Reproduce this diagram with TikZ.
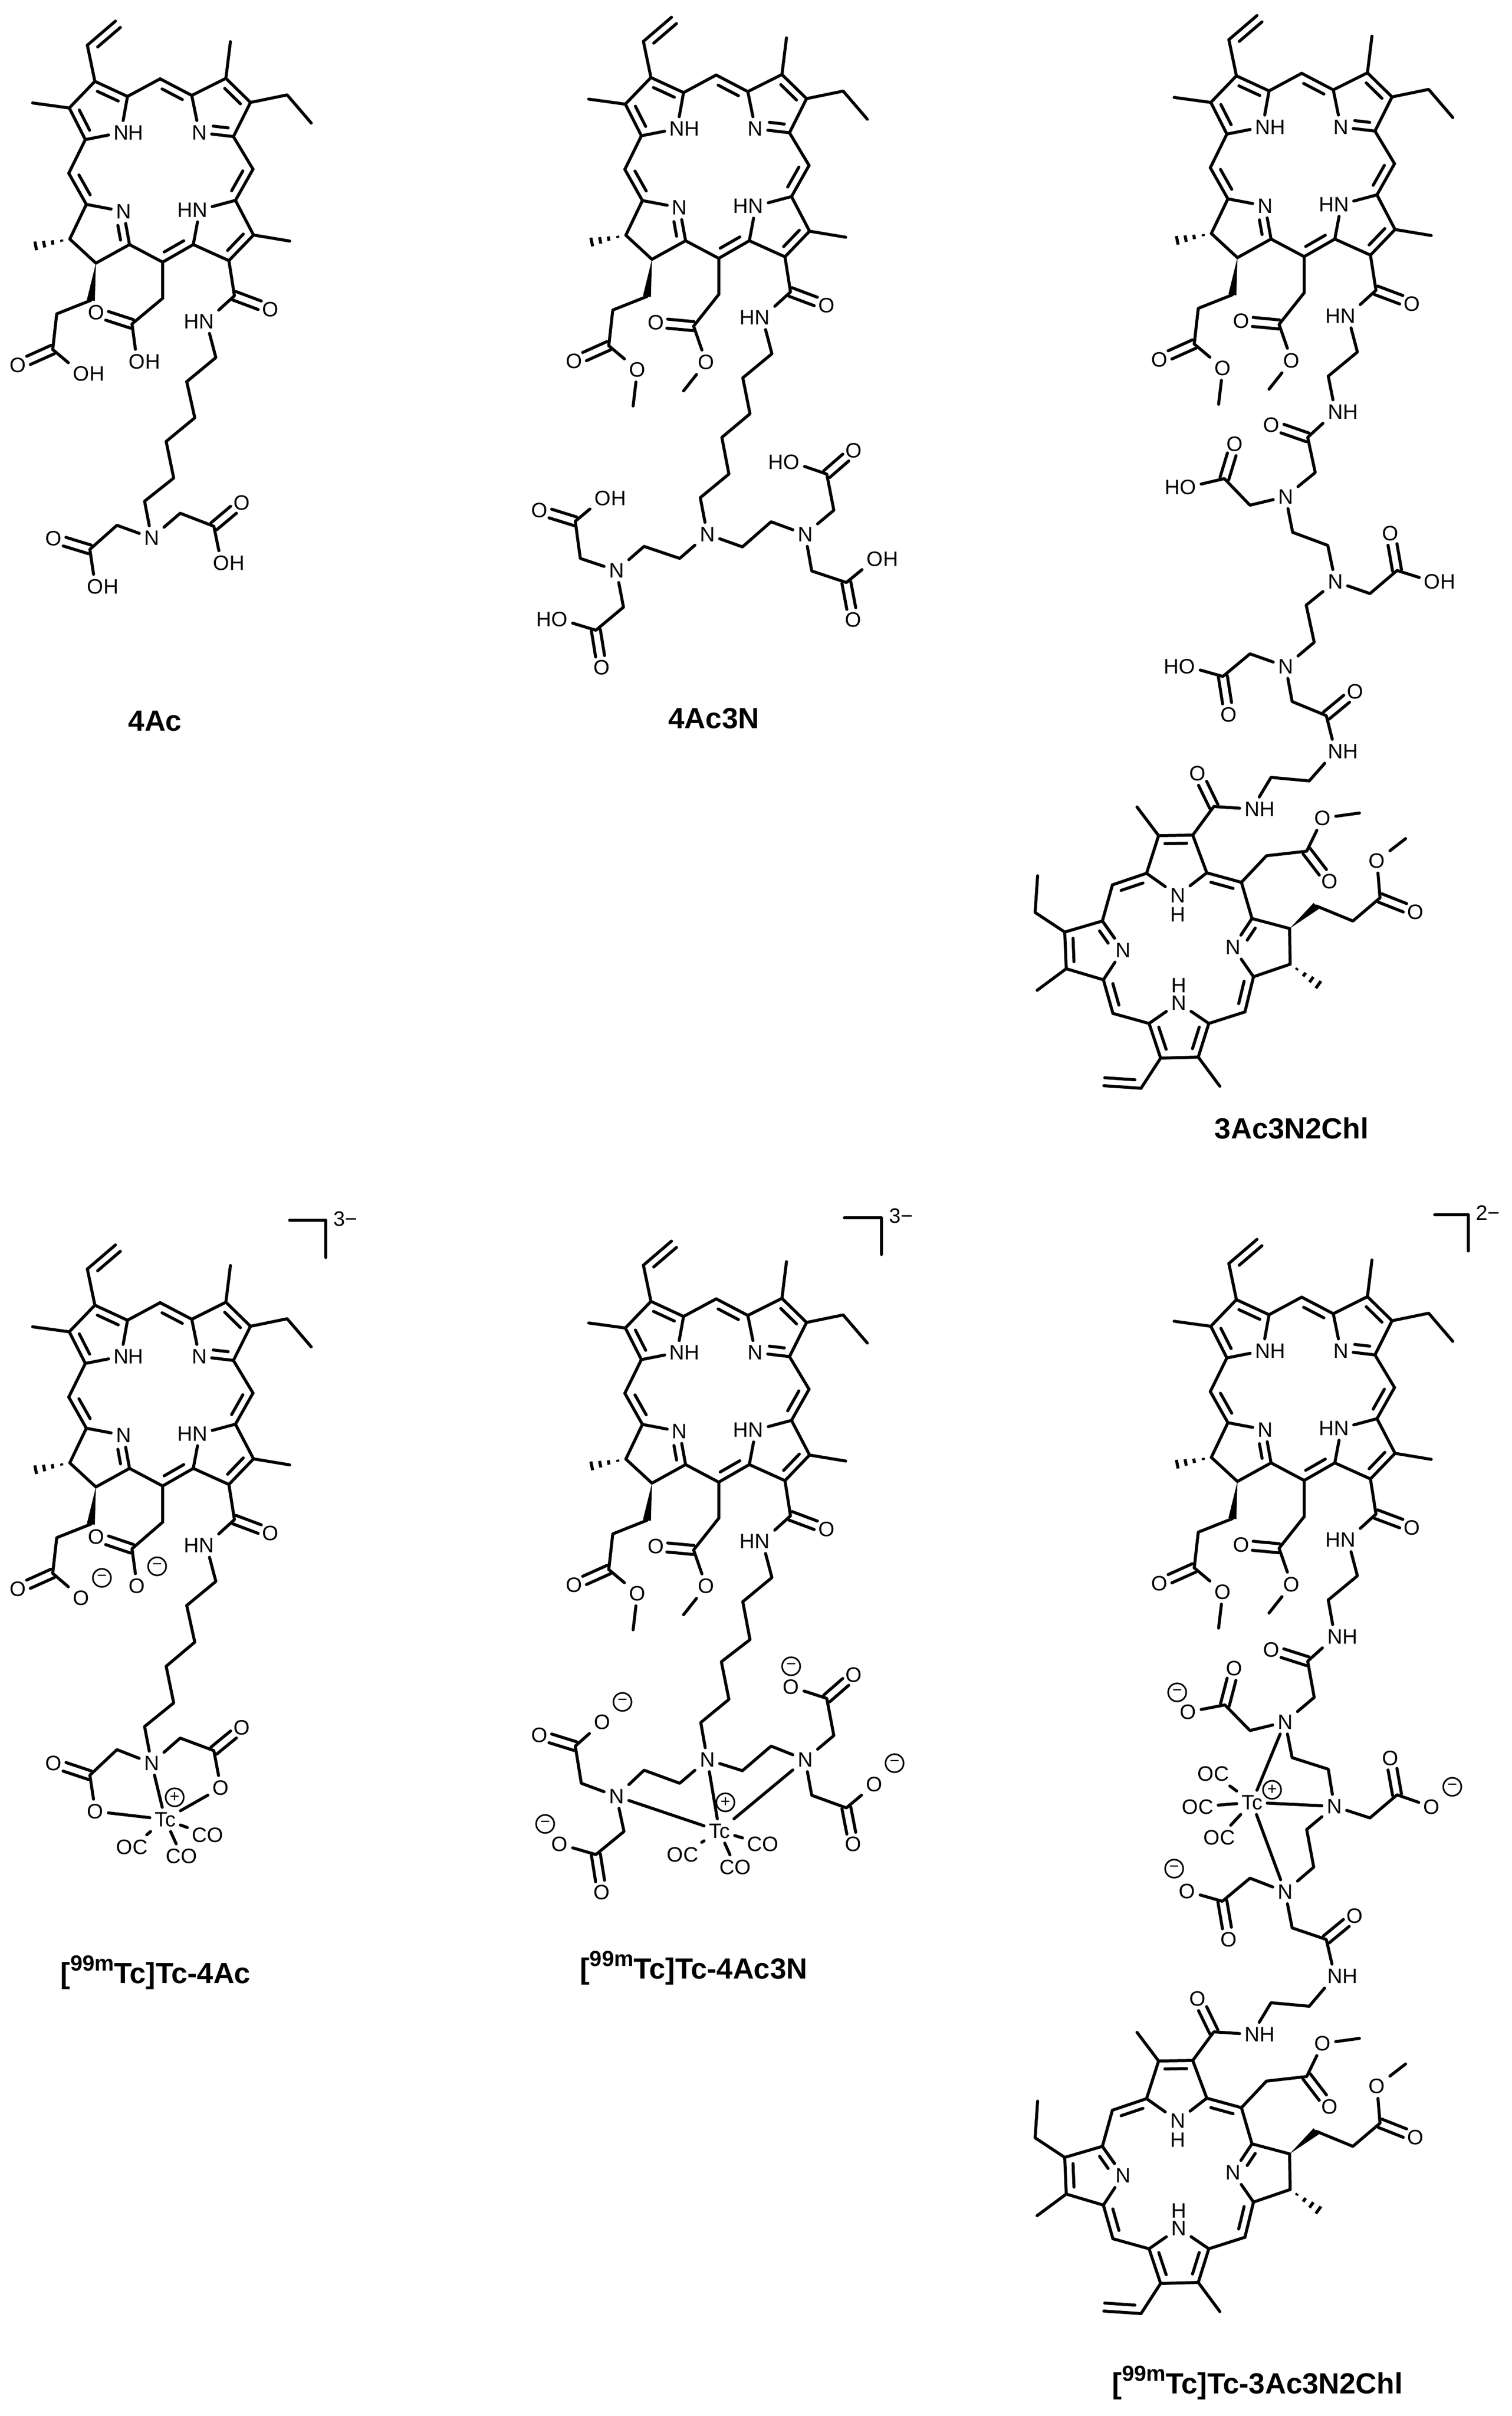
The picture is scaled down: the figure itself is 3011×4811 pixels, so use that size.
\documentclass[tikz,border=0pt]{standalone}
\usepackage{fontspec}
\setmainfont{Liberation Sans}
\usetikzlibrary{calc}

\tikzset{
  bond/.style={line width=1.7pt, line cap=round, line join=round},
  atom/.style={inner sep=.09cm, font=\fontsize{11.8}{12}\selectfont},
  charge/.style={circle, draw, line width=.9pt, inner sep=0pt, minimum size=.36cm,
                 font=\fontsize{9.5}{10}\selectfont},
  title/.style={anchor=base, inner sep=0pt, font=\fontsize{16.5}{18}\selectfont\bfseries}
}

% ring double bond: full line plus short inner line
\newcommand{\dbl}[4][.82]{%
  \draw[bond] (#2) -- (#3);
  \draw[bond] ($(#2)!.18!(#3)!.16cm!#4:(#3)$) -- ($(#2)!#1!(#3)!.16cm!#4:(#3)$);}
% C=O: two lines either side of the axis
\newcommand{\dbo}[2]{%
  \draw[bond] ($(#1)!0!(#2)!.09cm!90:(#2)$) -- ($(#1)!.7!(#2)!.09cm!90:(#2)$);
  \draw[bond] ($(#1)!0!(#2)!.09cm!-90:(#2)$) -- ($(#1)!.7!(#2)!.09cm!-90:(#2)$);}
\newcommand{\wdg}[2]{\fill (#1) -- ($(#2)!.08cm!90:(#1)$) -- ($(#2)!.08cm!-90:(#1)$) -- cycle;}
\newcommand{\hsh}[2]{%
  \foreach \hh in {.23,.49,.73,.97}
    {\draw[bond, line cap=butt] ($(#1)!\hh!(#2)!\hh*.09cm!90:(#2)$) -- ($(#1)!\hh!(#2)!\hh*.09cm!-90:(#2)$);}}
\newcommand{\minusnode}[3]{\node[charge] (#1) at (#2,#3) {\raisebox{-.11em}{−}};}
\newcommand{\plusnode}[3]{\node[charge] (#1) at (#2,#3) {\raisebox{-.06em}{+}};}
\newcommand{\tcname}{[\raisebox{.42em}{\fontsize{12.4}{13}\selectfont 99m}Tc]Tc-}

% Chlorin core, upright
\newcommand{\chlorin}[3]{%
  \begin{scope}[shift={(#2,#3)}, name prefix=#1-]
    \foreach \nm/\x/\y in {a1/189/162, a2/138/215, a3/170/278, a4/254/192, vi1/174/90, vi2/230/42, ma/65/205,
        m1/319/157, b1/382/190, b2/450/156, b3/499/204, b4/465/272, mb/459/83, et1/572/189, et2/620/245,
        m2/504/337, c1/469/399, c2/505/468, c3/456/519, c4/385/487, mc/577/480,
        m3/324/522, d1/258/487, d2/191/524, d3/139/476, d4/172/407, m4/137/345, md/69/490,
        wb/181/598, p2/113/625, p3/105/696, am/467/589, ch/324/594, q1/430/712, q2/372/760}
      {\coordinate (\nm) at (\x,\y);}
    \node[atom] (na) at (241,264) {N\rlap{H}};
    \node[atom] (nb) at (397,264) {N};
    \node[atom] (nc) at (398,418) {\llap{H}N};
    \node[atom] (nd) at (246,421) {N};
    \node[atom] (oam) at (539,616) {O};
    \node[atom] (nam) at (411,640) {\llap{H}N};
    \node[atom] (op) at (36,727) {O};
    % single bonds
    \draw[bond] (vi1) -- (a1) -- (a2) -- (ma);
    \draw[bond] (na) -- (a3) -- (m4);
    \draw[bond] (na) -- (a4) -- (m1);
    \draw[bond] (nb) -- (b1) -- (b2) -- (mb);
    \draw[bond] (et2) -- (et1) -- (b3) -- (b4) -- (m2);
    \draw[bond] (nc) -- (c1) -- (c2) -- (mc);
    \draw[bond] (nc) -- (c4) -- (c3) -- (am) -- (nam) -- (q1) -- (q2);
    \draw[bond] (m3) -- (d1) -- (d2) -- (d3) -- (d4) -- (nd);
    \draw[bond] (m3) -- (ch);
    \draw[bond] (wb) -- (p2) -- (p3);
    % double bonds
    \dbl{a1}{a4}{-90} \dbl{a2}{a3}{90} \dbl{m1}{b1}{-90} \dbl{b2}{b3}{-90}
    \dbl[.62]{b4}{nb}{-90} \dbl{m2}{c1}{-90} \dbl{c2}{c3}{-90} \dbl{c4}{m3}{-90}
    \dbl[.62]{d1}{nd}{90} \dbl{m4}{d4}{90} \dbl[.99]{vi1}{vi2}{-90}
    \dbo{am}{oam} \dbo{p3}{op}
    \wdg{d2}{wb} \hsh{d3}{md}
  \end{scope}}

% two methyl esters on the core
\newcommand{\esters}[3]{%
  \begin{scope}[shift={(#2,#3)}, name prefix=#1-]
    \coordinate (ac) at (274,657);
    \coordinate (mea) at (254,786);
    \coordinate (mep) at (153.5,816);
    \node[atom] (oa1) at (199,650) {O};
    \node[atom] (oa2) at (299,729) {O};
    \node[atom] (op2) at (162,744) {O};
    \draw[bond] (ch) -- (ac) -- (oa2) -- (mea);
    \draw[bond] (p3) -- (op2) -- (mep);
    \dbo{ac}{oa1}
  \end{scope}}

% Chlorin core, turned over, closes the long chain
\newcommand{\chlorinb}[2]{%
  \begin{scope}[shift={(0,#2)}, name prefix=#1-]
    \foreach \nm/\x/\y in {lk1/2608/1555, lk2/2532/1548, am/2418/1606, r1/2376/1663, r2/2308/1664, me1/2265/1607,
        r3/2284/1739, r4/2404/1738, ma/2473/1757, c1/2523/1704, c2/2603/1695, me2/2708/1619,
        s1/2494/1829, s2/2569/1849, s3/2570/1920, s4/2497/1945, wb/2622/1804, p2/2695/1834, p3/2749/1788,
        me3/2800/1670, md/2628/1962, mb/2480/2015, t1/2408/2038, t2/2387/2105, t3/2312/2107, t4/2289/2038,
        me4/2430/2163, vi1/2273/2167, vi2/2199/2162, mc/2217/2018, u1/2198/1951, u2/2124/1929, u3/2121/1856,
        u4/2196/1834, et1/2062/1817, et2/2067/1744, me5/2066/1972, mm/2216/1762}
      {\coordinate (\nm) at (\x,\y);}
    \node[atom] (lnh) at (2494,1611) {N\rlap{H}};
    \node[atom] (oam) at (2386,1540) {O};
    \node[atom] (na) at (2346,1783) {N};
    \node[atom] (ha) at (2346,1821) {H};
    \node[atom] (nb) at (2456,1886) {N};
    \node[atom] (nc) at (2348,1997) {N};
    \node[atom] (hc) at (2348,1962) {H};
    \node[atom] (nd) at (2237,1892) {N};
    \node[atom] (o1) at (2649,1755) {O};
    \node[atom] (o2) at (2635,1629) {O};
    \node[atom] (o3) at (2820,1816) {O};
    \node[atom] (o4) at (2743,1714) {O};
    % single bonds
    \draw[bond] (lk1) -- (lk2) -- (lnh) -- (am) -- (r1) -- (r4) -- (na) -- (r3) -- (r2) -- (me1);
    \draw[bond] (ma) -- (c1) -- (c2) -- (o2) -- (me2);
    \draw[bond] (ma) -- (s1) -- (s2) -- (s3) -- (s4) -- (nb);
    \draw[bond] (wb) -- (p2) -- (p3) -- (o4) -- (me3);
    \draw[bond] (mb) -- (t1) -- (nc) -- (t4) -- (mc);
    \draw[bond] (t2) -- (me4);
    \draw[bond] (vi1) -- (t3) -- (t2);
    \draw[bond] (me5) -- (u2) -- (u1) -- (nd) -- (u4) -- (mm);
    \draw[bond] (u4) -- (u3) -- (et1) -- (et2);
    % double bonds
    \dbl{mm}{r3}{-90} \dbl{r4}{ma}{-90} \dbl{r1}{r2}{90} \dbl[.6]{s1}{nb}{90}
    \dbl{s4}{mb}{-90} \dbl{t1}{t2}{-90} \dbl{t3}{t4}{-90} \dbl{mc}{u1}{-90}
    \dbl{u2}{u3}{-90} \dbl[.6]{u4}{nd}{-90} \dbl[.99]{vi1}{vi2}{-90}
    \dbo{am}{oam} \dbo{c2}{o1} \dbo{p3}{o3}
    \wdg{s2}{wb} \hsh{s3}{md}
  \end{scope}}

\begin{document}
\begin{tikzpicture}[x=.01cm, y=-.01cm]
  \useasboundingbox (0,0) rectangle (3011,4811);

  % 4Ac
  \chlorin{a}{0}{0}
  \begin{scope}[name prefix=a-]
    \foreach \nm/\x/\y in {ac/263/645, k1/388/832, k2/331/879, k3/346/952, k4/288/998,
        l1/233/1046, l2/179/1094, r1/359/1022, r2/426/1048}
      {\coordinate (\nm) at (\x,\y);}
    \foreach \nm/\x/\y in {o1/192/622, o2/107/1072, o3/482/1001}
      {\node[atom] (\nm) at (\x,\y) {O};}
    \foreach \nm/\x/\y in {oh1/162/744, oh2/273/720, oh3/190/1168, oh4/441/1121}
      {\node[atom] (\nm) at (\x,\y) {O\rlap{H}};}
    \node[atom] (n) at (302,1071) {N};
    \draw[bond] (p3) -- (oh1);
    \draw[bond] (ch) -- (ac) -- (oh2);
    \draw[bond] (q2) -- (k1) -- (k2) -- (k3) -- (k4) -- (n);
    \draw[bond] (n) -- (l1) -- (l2) -- (oh3);
    \draw[bond] (n) -- (r1) -- (r2) -- (oh4);
    \dbo{ac}{o1} \dbo{l2}{o2} \dbo{r2}{o3}
    \node[title] (ta) at (309,1455) {4Ac};
  \end{scope}

  % 4Ac3N
  \chlorin{b}{1107.7}{-7.6}
  \esters{b}{1107.7}{-7.6}
  \begin{scope}[name prefix=b-]
    \foreach \nm/\x/\y in {k1/1494/824, k2/1438/871, k3/1452/944, k4/1395/991,
        l1/1354/1112, l2/1283/1088, l3/1156/1112, l4/1146/1038, l5/1242/1209, l6/1187/1255,
        r1/1479/1089, r2/1536/1039, r3/1661/1016, r4/1647/944, r5/1617/1137, r6/1686/1160}
      {\coordinate (\nm) at (\x,\y);}
    \foreach \nm/\x/\y in {nc/1409/1064, nl/1228/1136, nr/1604/1064}
      {\node[atom] (\nm) at (\x,\y) {N};}
    \foreach \nm/\x/\y in {o1/1075/1016, o2/1199/1329, o3/1701/897, o4/1700/1234}
      {\node[atom] (\nm) at (\x,\y) {O};}
    \node[atom] (oh1) at (1201,992) {O\rlap{H}};
    \node[atom] (oh2) at (1115,1233) {\llap{H}O};
    \node[atom] (oh3) at (1577,920) {\llap{H}O};
    \node[atom] (oh4) at (1743,1113) {O\rlap{H}};
    \draw[bond] (q2) -- (k1) -- (k2) -- (k3) -- (k4) -- (nc);
    \draw[bond] (nc) -- (l1) -- (l2) -- (nl) -- (l3) -- (l4) -- (oh1);
    \draw[bond] (nl) -- (l5) -- (l6) -- (oh2);
    \draw[bond] (nc) -- (r1) -- (r2) -- (nr) -- (r3) -- (r4) -- (oh3);
    \draw[bond] (nr) -- (r5) -- (r6) -- (oh4);
    \dbo{l4}{o1} \dbo{l6}{o2} \dbo{r4}{o3} \dbo{r6}{o4}
    \node[title] (tb) at (1422,1450) {4Ac3N};
  \end{scope}

  % 3Ac3N2Chl
  \chlorin{c}{2274}{-11}
  \esters{c}{2274}{-11}
  \chlorinb{cc}{0}
  \begin{scope}[name prefix=c-]
    \foreach \nm/\x/\y in {k1/2605/871, k2/2620/941, l1/2490/1006, l2/2439/953, k3/2575/1060, k4/2645/1086,
        r1/2729/1182, r2/2783/1136, k5/2602/1205, k6/2618/1279, l3/2490/1302, l4/2436/1347,
        k7/2574/1397, k8/2642/1425}
      {\coordinate (\nm) at (\x,\y);}
    \foreach \nm/\x/\y in {n1/2561/989, n2/2660/1158, n3/2561/1327}
      {\node[atom] (\nm) at (\x,\y) {N};}
    \foreach \nm/\x/\y in {o1/2533/846, o2/2460/884, o3/2770/1062, o4/2448/1423, o5/2700/1377}
      {\node[atom] (\nm) at (\x,\y) {O};}
    \node[atom] (nh1) at (2660,820) {N\rlap{H}};
    \node[atom] (nh2) at (2660,1496) {N\rlap{H}};
    \node[atom] (oh1) at (2367,970) {\llap{H}O};
    \node[atom] (oh2) at (2853,1158) {O\rlap{H}};
    \node[atom] (oh3) at (2365,1327) {\llap{H}O};
    \draw[bond] (q2) -- (nh1) -- (k1) -- (k2) -- (n1) -- (l1) -- (l2) -- (oh1);
    \draw[bond] (n1) -- (k3) -- (k4) -- (n2) -- (r1) -- (r2) -- (oh2);
    \draw[bond] (n2) -- (k5) -- (k6) -- (n3) -- (l3) -- (l4) -- (oh3);
    \draw[bond] (n3) -- (k7) -- (k8) -- (nh2) -- (cc-lk1);
    \dbo{k1}{o1} \dbo{l2}{o2} \dbo{r2}{o3} \dbo{l4}{o4} \dbo{k8}{o5}
    \node[title] (tc) at (2573,2267) {3Ac3N2Chl};
  \end{scope}

  % [99mTc]Tc-4Ac
  \chlorin{d}{0}{2437}
  \begin{scope}[name prefix=d-]
    \foreach \nm/\x/\y in {ac/263/3084, k1/388/3270, k2/331/3318, k3/346/3391, k4/288/3438,
        l1/233/3484, l2/179/3535, r1/359/3461, r2/426/3486,
        br1/577/2430, br2/649/2430, br3/649/2504}
      {\coordinate (\nm) at (\x,\y);}
    \foreach \nm/\x/\y in {o1/162/3182, o2/273/3158, o3/192/3060, o4/107/3511, o5/190/3607, o6/482/3440, o7/440/3560}
      {\node[atom] (\nm) at (\x,\y) {O};}
    \node[atom] (n) at (302,3511) {N};
    \node[atom] (tcm) at (329,3623) {Tc};
    \node[atom] (co1) at (414,3654) {CO};
    \node[atom] (co2) at (263,3678) {OC};
    \node[atom] (co3) at (362,3696) {CO};
    \minusnode{mn1}{203}{3142}
    \minusnode{mn2}{313}{3119}
    \plusnode{pl1}{348}{3579}
    \draw[bond] (p3) -- (o1);
    \draw[bond] (ch) -- (ac) -- (o2);
    \draw[bond] (q2) -- (k1) -- (k2) -- (k3) -- (k4) -- (n);
    \draw[bond] (n) -- (l1) -- (l2) -- (o5) -- (tcm);
    \draw[bond] (n) -- (r1) -- (r2) -- (o7) -- (tcm);
    \draw[bond] (n) -- (tcm);
    \draw[bond] (tcm) -- (co1);
    \draw[bond] (tcm) -- (co2);
    \draw[bond] (tcm) -- (co3);
    \dbo{ac}{o3} \dbo{l2}{o4} \dbo{r2}{o6}
    \draw[bond] (br1) -- (br2) -- (br3);
    \node[atom, anchor=west, inner sep=0pt] (zd) at (664,2427) {3−};
    \node[title] (td) at (310,3949) {\tcname 4Ac};
  \end{scope}

  % [99mTc]Tc-4Ac3N
  \chlorin{e}{1107.7}{2429.4}
  \esters{e}{1107.7}{2429.4}
  \begin{scope}[name prefix=e-]
    \foreach \nm/\x/\y in {k1/1494/3265, k2/1437/3309, k3/1452/3384, k4/1396/3430,
        l1/1354/3551, l2/1283/3525, l3/1158/3551, l4/1146/3477, l5/1243/3647, l6/1187/3693,
        r1/1479/3526, r2/1536/3477, r3/1661/3456, r4/1647/3382, r5/1617/3575, r6/1686/3600,
        br1/1682/2425, br2/1756/2425, br3/1756/2498}
      {\coordinate (\nm) at (\x,\y);}
    \foreach \nm/\x/\y in {nc/1409/3504, nl/1228/3577, nr/1604/3504}
      {\node[atom] (\nm) at (\x,\y) {N};}
    \foreach \nm/\x/\y in {o1/1075/3455, o2/1200/3429, o3/1199/3768, o4/1115/3672,
        o5/1701/3335, o6/1576/3359, o7/1700/3672, o8/1742/3553}
      {\node[atom] (\nm) at (\x,\y) {O};}
    \node[atom] (tcm) at (1433,3646) {Tc};
    \node[atom] (co1) at (1520,3672) {CO};
    \node[atom] (co2) at (1360,3693) {OC};
    \node[atom] (co3) at (1465,3718) {CO};
    \minusnode{mn1}{1240}{3389}
    \minusnode{mn2}{1086}{3632}
    \minusnode{mn3}{1576}{3318}
    \minusnode{mn4}{1782}{3511}
    \plusnode{pl1}{1445}{3589}
    \draw[bond] (q2) -- (k1) -- (k2) -- (k3) -- (k4) -- (nc);
    \draw[bond] (nc) -- (l1) -- (l2) -- (nl) -- (l3) -- (l4) -- (o2);
    \draw[bond] (nl) -- (l5) -- (l6) -- (o4);
    \draw[bond] (nc) -- (r1) -- (r2) -- (nr) -- (r3) -- (r4) -- (o6);
    \draw[bond] (nr) -- (r5) -- (r6) -- (o8);
    \draw[bond] (nc) -- (tcm);
    \draw[bond] (nl) -- (tcm);
    \draw[bond] (nr) -- (tcm);
    \draw[bond] (tcm) -- (co1);
    \draw[bond] (tcm) -- (co2);
    \draw[bond] (tcm) -- (co3);
    \dbo{l4}{o1} \dbo{l6}{o3} \dbo{r4}{o5} \dbo{r6}{o7}
    \draw[bond] (br1) -- (br2) -- (br3);
    \node[atom, anchor=west, inner sep=0pt] (ze) at (1771,2421) {3−};
    \node[title] (te) at (1382,3940) {\tcname 4Ac3N};
  \end{scope}

  % [99mTc]Tc-3Ac3N2Chl
  \chlorin{f}{2274}{2426}
  \esters{f}{2274}{2426}
  \chlorinb{ff}{2440}
  \begin{scope}[name prefix=f-]
    \foreach \nm/\x/\y in {k1/2605/3308, k2/2618/3380, l1/2490/3446, l2/2440/3395, k3/2574/3500, k4/2646/3523,
        r1/2729/3620, r2/2783/3574, k5/2603/3643, k6/2617/3718, l3/2490/3740, l4/2435/3786,
        k7/2574/3839, k8/2642/3862, br1/2858/2419, br2/2925/2419, br3/2925/2491}
      {\coordinate (\nm) at (\x,\y);}
    \foreach \nm/\x/\y in {n1/2560/3429, n2/2658/3597, n3/2560/3767}
      {\node[atom] (\nm) at (\x,\y) {N};}
    \foreach \nm/\x/\y in {o1/2533/3285, o2/2459/3322, o3/2367/3409, o4/2770/3501, o5/2852/3598,
        o6/2448/3862, o7/2365/3766, o8/2699/3815}
      {\node[atom] (\nm) at (\x,\y) {O};}
    \node[atom] (nh1) at (2659,3259) {N\rlap{H}};
    \node[atom] (nh2) at (2659,3935) {N\rlap{H}};
    \node[atom] (tcm) at (2494,3589) {Tc};
    \node[atom] (co1) at (2417,3532) {OC};
    \node[atom] (co2) at (2386,3598) {OC};
    \node[atom] (co3) at (2429,3659) {OC};
    \minusnode{mn1}{2345}{3370}
    \minusnode{mn2}{2893}{3558}
    \minusnode{mn3}{2339}{3721}
    \plusnode{pl1}{2534}{3564}
    \draw[bond] (q2) -- (nh1) -- (k1) -- (k2) -- (n1) -- (l1) -- (l2) -- (o3);
    \draw[bond] (n1) -- (k3) -- (k4) -- (n2) -- (r1) -- (r2) -- (o5);
    \draw[bond] (n2) -- (k5) -- (k6) -- (n3) -- (l3) -- (l4) -- (o7);
    \draw[bond] (n3) -- (k7) -- (k8) -- (nh2) -- (ff-lk1);
    \draw[bond] (n1) -- (tcm);
    \draw[bond] (n2) -- (tcm);
    \draw[bond] (n3) -- (tcm);
    \draw[bond] (tcm) -- (co1);
    \draw[bond] (tcm) -- (co2);
    \draw[bond] (tcm) -- (co3);
    \dbo{k1}{o1} \dbo{l2}{o2} \dbo{r2}{o4} \dbo{l4}{o6} \dbo{k8}{o8}
    \draw[bond] (br1) -- (br2) -- (br3);
    \node[atom, anchor=west, inner sep=0pt] (zf) at (2940,2415) {2−};
    \node[title] (tf) at (2505,4766) {\tcname 3Ac3N2Chl};
  \end{scope}
\end{tikzpicture}
\end{document}
